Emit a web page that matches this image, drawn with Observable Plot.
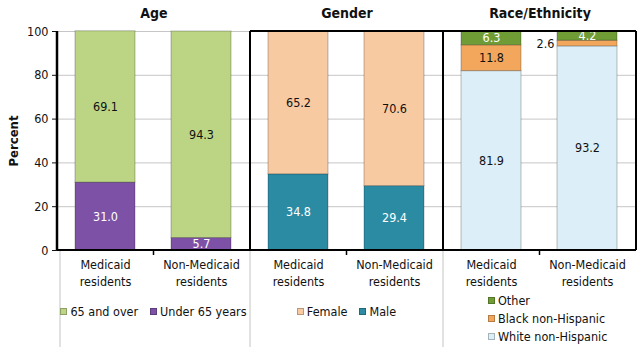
<!DOCTYPE html>
<html>
<head>
<meta charset="utf-8">
<script src="https://cdn.jsdelivr.net/npm/d3@7"></script>
<script src="https://cdn.jsdelivr.net/npm/@observablehq/plot@0.6"></script>
<style>
  html, body { margin: 0; padding: 0; background: #fff; }
  #wrap { position: relative; width: 643px; height: 349px; font-family: "Liberation Sans Narrow", "DejaVu Sans Condensed", "Liberation Sans", sans-serif; }
  .legend { position: absolute; font-size: 12.5px; color: #111; }
  .legend .item { display: flex; align-items: center; white-space: nowrap; }
  .legend .sw { width: 7px; height: 7px; margin-right: 3px; border: 1px solid rgba(0,0,0,0.25); box-sizing: border-box; }
</style>
</head>
<body>
<div id="wrap"></div>
<script>
// ---- data ----
const panels = ["Age", "Gender", "Race/Ethnicity"];
const groups = ["Medicaid residents", "Non-Medicaid residents"];
const groupLabels = ["Medicaid\nresidents", "Non-Medicaid\nresidents"];

const ageCategories = ["Under 65 years", "65 and over"];
const ageMedicaid = [31.0, 69.1];
const ageNonMedicaid = [5.7, 94.3];

const genderCategories = ["Male", "Female"];
const genderMedicaid = [34.8, 65.2];
const genderNonMedicaid = [29.4, 70.6];

const raceCategories = ["White non-Hispanic", "Black non-Hispanic", "Other"];
const raceMedicaid = [81.9, 11.8, 6.3];
const raceNonMedicaid = [93.2, 2.6, 4.2];

const yTicks = [0, 20, 40, 60, 80, 100];

// ---- styles ----
const categoryColors = {
  "Under 65 years": "#7d52a6",
  "65 and over": "#bcd585",
  "Male": "#2b8ba3",
  "Female": "#f8caa2",
  "White non-Hispanic": "#dceff8",
  "Black non-Hispanic": "#f2a75c",
  "Other": "#6f9c35"
};
const darkCategories = new Set(["Under 65 years", "Male", "Other"]);
const legendOrder = {
  "Age": ["65 and over", "Under 65 years"],
  "Gender": ["Female", "Male"],
  "Race/Ethnicity": ["Other", "Black non-Hispanic", "White non-Hispanic"]
};

// ---- build table ----
const rows = [];
function addPanel(panel, cats, byGroup) {
  byGroup.forEach((vals, gi) => {
    let acc = 0;
    vals.forEach((v, ci) => {
      rows.push({
        panel, group: groups[gi], category: cats[ci], value: v,
        y1: acc, y2: acc + v, mid: acc + v / 2,
        label: v.toFixed(1)
      });
      acc += v;
    });
  });
}
addPanel("Age", ageCategories, [ageMedicaid, ageNonMedicaid]);
addPanel("Gender", genderCategories, [genderMedicaid, genderNonMedicaid]);
addPanel("Race/Ethnicity", raceCategories, [raceMedicaid, raceNonMedicaid]);

const groupTicks = [];
panels.forEach(p => groups.forEach((g, i) => groupTicks.push({ panel: p, group: g, text: groupLabels[i] })));

const allCats = Object.keys(categoryColors);
const inside = rows.filter(d => d.value >= 4);
const outside = rows.filter(d => d.value < 4);

const W = 643, H = 349, ML = 57, MR = 7, MT = 31, MB = 99;
const FONT = '"Liberation Sans Narrow", "DejaVu Sans Condensed", "Liberation Sans", sans-serif';

const chart = Plot.plot({
  width: W, height: H,
  marginLeft: ML, marginRight: MR, marginTop: MT, marginBottom: MB,
  style: { fontFamily: FONT, fontSize: "12.5px", color: "#111", background: "#fff" },
  fx: { domain: panels, padding: 0, axis: "top", label: null, tickSize: 0, tickPadding: 14 },
  x: { domain: groups, paddingInner: 0.37, paddingOuter: 0.18, axis: null },
  y: { domain: [0, 100], ticks: yTicks, label: "Percent", labelAnchor: "center", labelOffset: 49, tickSize: 5, tickPadding: 4 },
  color: { domain: allCats, range: allCats.map(c => categoryColors[c]) },
  marks: [
    Plot.ruleY(yTicks, { stroke: "#c6c6c6", strokeWidth: 1 }),
    Plot.barY(rows, { fx: "panel", x: "group", y1: "y1", y2: "y2", fill: "category",
      stroke: "#00000040", strokeWidth: 1 }),
    Plot.text(inside, { fx: "panel", x: "group", y: "mid", text: "label",
      fill: d => darkCategories.has(d.category) ? "#fff" : "#111", fontSize: 12.5 }),
    Plot.text(outside, { fx: "panel", x: "group", y: "mid", text: "label",
      fill: "#111", fontSize: 12.5, dx: -42 }),
    Plot.text(groupTicks, { fx: "panel", x: "group", text: "text", frameAnchor: "bottom",
      lineAnchor: "top", lineHeight: 1.35, dy: 7, fontSize: 12.5, fill: "#111" })
  ]
});

const wrap = document.getElementById("wrap");
wrap.appendChild(chart);

// style tweaks: bold facet titles and y label
chart.querySelectorAll("text").forEach(t => {
  const s = t.textContent;
  if (panels.includes(s)) { t.style.fontWeight = "bold"; t.style.fontSize = "14px"; }
  if (s.startsWith("Percent")) { t.textContent = "Percent"; t.style.fontWeight = "bold"; t.style.fontSize = "13px"; }
});

// ---- frame lines from layout ----
{
  const svg = d3.select(chart.tagName.toLowerCase() === "svg" ? chart : chart.querySelector("svg"));
  const g = svg.append("g");
  const pw = (W - ML - MR) / panels.length;
  const top = MT, bot = H - MB, left = ML, right = W - MR;
  for (let i = 0; i < panels.length; i++) {
    const x = left + i * pw + (i === 0 ? 3 : 0);
    g.append("line").attr("x1", x).attr("x2", x).attr("y1", bot).attr("y2", H - 2)
      .attr("stroke", "#c4c4c4").attr("stroke-width", 1);
  }
  g.append("line").attr("x1", left + pw).attr("x2", right).attr("y1", top).attr("y2", top)
    .attr("stroke", "#000").attr("stroke-width", 2);
  for (let i = 1; i <= panels.length; i++) {
    const x = left + i * pw;
    g.append("line").attr("x1", x).attr("x2", x).attr("y1", top).attr("y2", bot)
      .attr("stroke", "#000").attr("stroke-width", 2);
  }
  g.append("line").attr("x1", left).attr("x2", left).attr("y1", top).attr("y2", bot)
    .attr("stroke", "#000").attr("stroke-width", 2.5);
  g.append("line").attr("x1", left).attr("x2", right).attr("y1", bot).attr("y2", bot)
    .attr("stroke", "#000").attr("stroke-width", 2);
  for (let i = 0; i < panels.length; i++) {
    const x = left + i * pw + pw / 2;
    g.append("line").attr("x1", x).attr("x2", x).attr("y1", bot).attr("y2", bot + 5)
      .attr("stroke", "#000").attr("stroke-width", 1.5);
  }
}

// ---- legends (HTML, under each panel) ----
const pw = (W - ML - MR) / panels.length;
panels.forEach((p, i) => {
  const div = document.createElement("div");
  div.className = "legend";
  const cats = legendOrder[p];
  if (p === "Race/Ethnicity") {
    div.style.left = (ML + i * pw + 45) + "px";
    div.style.top = "293px";
    div.style.display = "flex"; div.style.flexDirection = "column"; div.style.gap = "3px";
  } else {
    div.style.left = (ML + i * pw) + "px";
    div.style.width = pw + "px";
    div.style.top = "304px";
    div.style.display = "flex"; div.style.justifyContent = "center"; div.style.gap = "12px";
  }
  cats.forEach(c => {
    const it = document.createElement("div");
    it.className = "item";
    const sw = document.createElement("span");
    sw.className = "sw"; sw.style.background = categoryColors[c];
    it.appendChild(sw);
    it.appendChild(document.createTextNode(c));
    div.appendChild(it);
  });
  wrap.appendChild(div);
});
</script>
</body>
</html>
